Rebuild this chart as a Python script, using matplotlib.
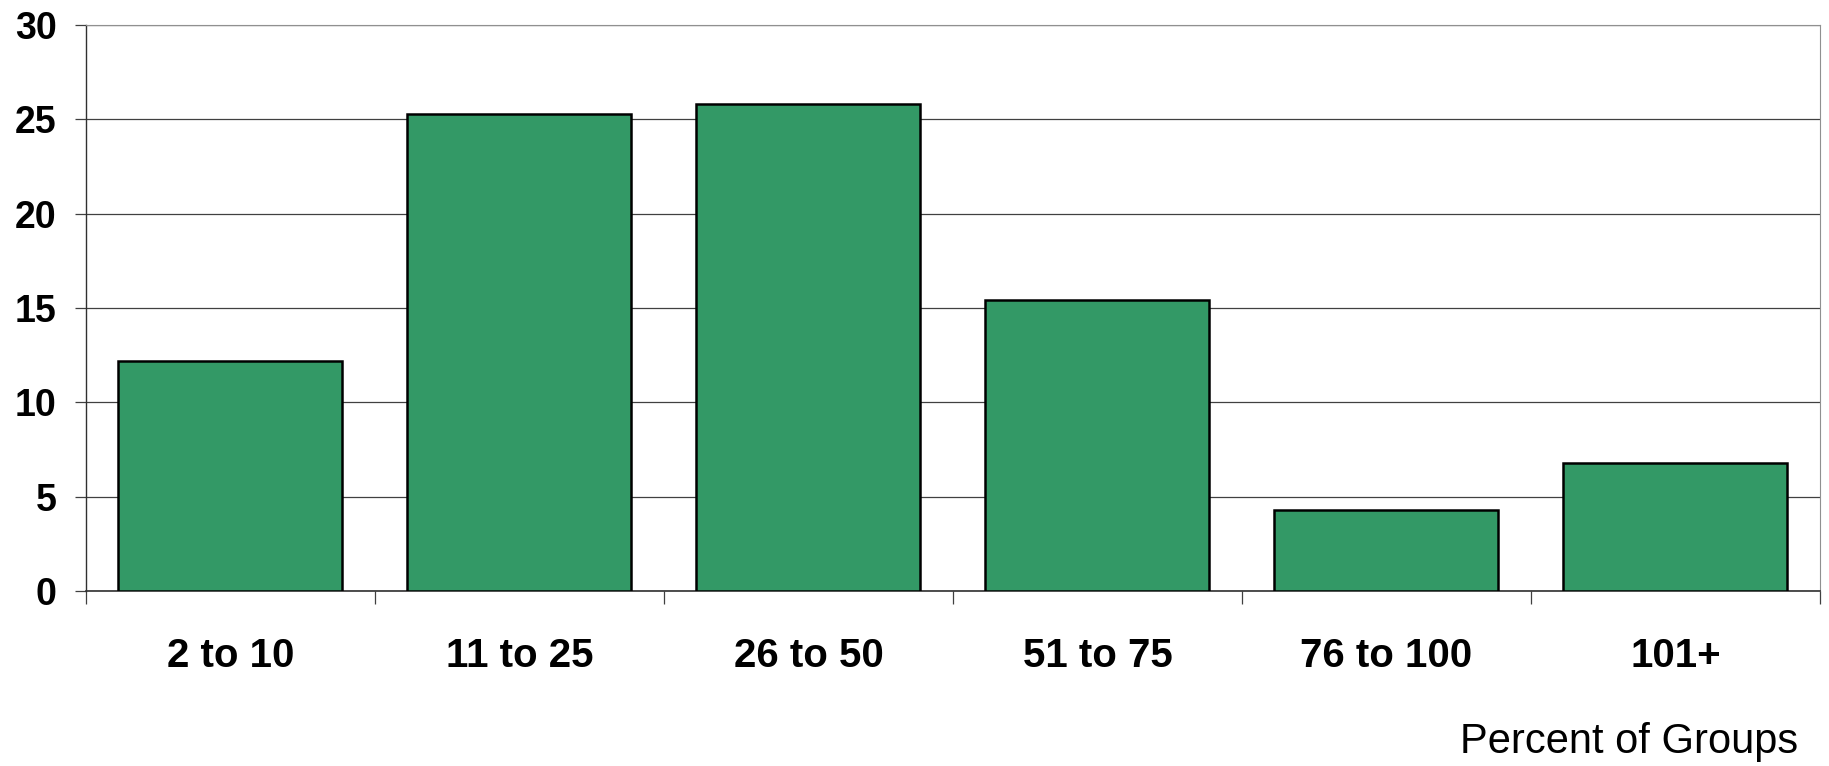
import matplotlib.pyplot as plt
import numpy as np

categories = ["2 to 10", "11 to 25", "26 to 50", "51 to 75", "76 to 100", "101+"]
percent_of_groups = [12.2, 25.3, 25.8, 15.4, 4.3, 6.8]
y_ticks = [0, 5, 10, 15, 20, 25, 30]


def main() -> None:
    plt.rcParams["font.family"] = ["Liberation Sans", "DejaVu Sans"]

    fig = plt.figure(figsize=(18.29, 7.66), dpi=100)
    ax = fig.add_axes([0.047, 0.2285, 0.948, 0.739])

    x = np.arange(len(categories))
    ax.bar(
        x,
        percent_of_groups,
        width=0.775,
        color="#339966",
        edgecolor="black",
        linewidth=1.8,
        zorder=3,
    )

    ax.set_xlim(-0.5, len(categories) - 0.5)
    ax.set_ylim(0, 30)

    # horizontal gridlines behind the bars
    ax.set_yticks(y_ticks)
    ax.yaxis.grid(True, color="#404040", linewidth=0.9, zorder=0)
    ax.tick_params(
        axis="y",
        length=8,
        width=0.9,
        color="#404040",
        pad=13,
        labelsize=27,
    )
    for label in ax.get_yticklabels():
        label.set_fontweight("bold")

    # tick marks between categories, labels under bar centres
    ax.set_xticks(np.arange(len(categories) + 1) - 0.5)
    ax.set_xticklabels([])
    ax.tick_params(axis="x", which="major", direction="out", length=9,
                   width=0.9, color="#404040")
    ax.set_xticks(x, minor=True)
    ax.set_xticklabels(categories, minor=True, fontsize=29, fontweight="bold")
    ax.tick_params(axis="x", which="minor", length=0, pad=33)

    ax.spines["left"].set_color("#303030")
    ax.spines["bottom"].set_color("#303030")
    ax.spines["left"].set_linewidth(1.0)
    ax.spines["bottom"].set_linewidth(1.2)
    ax.spines["top"].set_color("#909090")
    ax.spines["right"].set_color("#909090")

    fig.text(
        0.983,
        0.031,
        "Percent of Groups",
        ha="right",
        va="center",
        fontsize=30,
        family=["Liberation Sans Narrow", "Liberation Sans", "DejaVu Sans"],
    )

    fig.savefig("out.png", dpi=100)


if __name__ == "__main__":
    main()
